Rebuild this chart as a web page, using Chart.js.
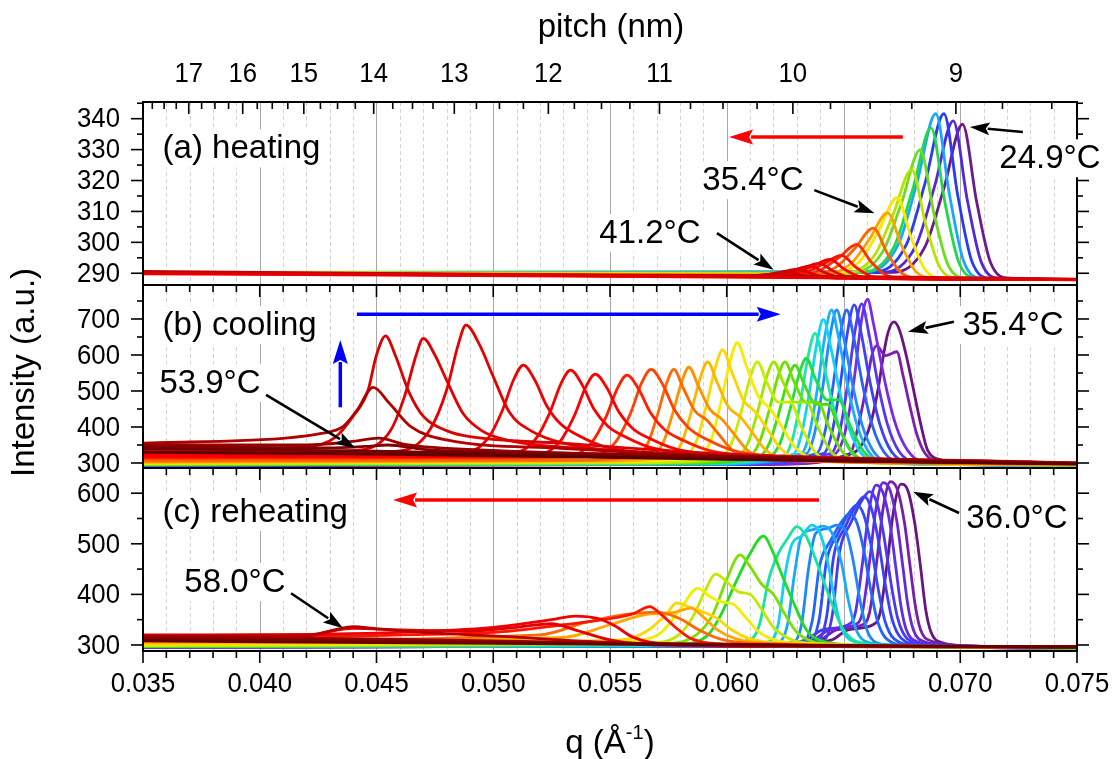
<!DOCTYPE html>
<html>
<head>
<meta charset="utf-8">
<script src="https://cdn.jsdelivr.net/npm/chart.js@4.4.1/dist/chart.umd.min.js"></script>
<style>
  html, body { margin: 0; padding: 0; background: #fff; }
  #wrap { width: 1114px; height: 759px; }
</style>
</head>
<body>
<div id="wrap"><canvas id="chart" width="1114" height="759"></canvas></div>
<script>
// tick values
const qTicks = [0.035, 0.040, 0.045, 0.050, 0.055, 0.060, 0.065, 0.070, 0.075];
const pitchTicks = [17, 16, 15, 14, 13, 12, 11, 10, 9];
const heatTicks = [290, 300, 310, 320, 330, 340];
const heatMinor = [295, 305, 315, 325, 335, 345];
const coolTicks = [300, 400, 500, 600, 700];
const coolMinor = [350, 450, 550, 650, 750];
const reheatTicks = [300, 400, 500, 600];
const reheatMinor = [350, 450, 550];

// (a) heating: scans from 24.9°C (purple) upwards, each curve as [q, intensity] points
const heatingCurves = [
  [[0.035,290.3],[0.0671,290.3],[0.0685,298.7],[0.0693,317.5],[0.0701,338.2],[0.0707,313.2],[0.0713,293.4],[0.0721,288.4],[0.075,288.0]],
  [[0.035,290.3],[0.0667,290.3],[0.0681,298.9],[0.0689,318.1],[0.0697,339.3],[0.0703,313.8],[0.0709,293.6],[0.0717,288.4],[0.075,288.0]],
  [[0.035,290.3],[0.0663,290.4],[0.0677,299.4],[0.0685,319.4],[0.0693,341.6],[0.0699,314.9],[0.0705,293.8],[0.0713,288.4],[0.075,288.0]],
  [[0.035,290.3],[0.06595,290.4],[0.06735,299.4],[0.06815,319.4],[0.06895,341.6],[0.06955,314.9],[0.07015,293.8],[0.07095,288.4],[0.075,288.0]],
  [[0.035,290.3],[0.06575,290.2],[0.06715,298.4],[0.06795,316.8],[0.06875,337.0],[0.06935,312.6],[0.06995,293.3],[0.07075,288.4],[0.075,288.0]],
  [[0.035,290.3],[0.06528,290.0],[0.06668,297.0],[0.06748,312.6],[0.06828,329.9],[0.06888,309.1],[0.06948,292.6],[0.07028,288.4],[0.075,288.0]],
  [[0.035,290.3],[0.06492,289.8],[0.06632,295.7],[0.06712,308.9],[0.06792,323.5],[0.06852,305.9],[0.06912,292.0],[0.06992,288.4],[0.075,288.0]],
  [[0.035,290.3],[0.0643,289.6],[0.0657,293.9],[0.0665,303.7],[0.0673,314.5],[0.0679,301.4],[0.0685,291.1],[0.0693,288.4],[0.075,288.0]],
  [[0.035,290.3],[0.06389,289.4],[0.06529,292.9],[0.06609,300.8],[0.06689,309.5],[0.06749,298.9],[0.06809,290.6],[0.06889,288.4],[0.075,288.0]],
  [[0.035,290.3],[0.06328,289.3],[0.06468,292.0],[0.06548,298.0],[0.06628,304.6],[0.06688,296.4],[0.06748,290.1],[0.06828,288.4],[0.075,288.0]],
  [[0.035,290.3],[0.06257,289.1],[0.06397,290.9],[0.06477,294.9],[0.06557,299.3],[0.06617,293.8],[0.06677,289.6],[0.06757,288.4],[0.075,288.0]],
  [[0.035,290.3],[0.06192,289.0],[0.06332,290.2],[0.06412,292.9],[0.06492,295.8],[0.06552,292.0],[0.06612,289.2],[0.06692,288.4],[0.075,288.0]],
  [[0.035,290.3],[0.06142,289.0],[0.06282,290.0],[0.06362,292.1],[0.06442,294.5],[0.06502,291.4],[0.06562,289.1],[0.06642,288.4],[0.075,288.0]],
  [[0.035,290.3],[0.06096,288.9],[0.06236,289.7],[0.06316,291.4],[0.06396,293.2],[0.06456,290.7],[0.06516,288.9],[0.06596,288.4],[0.075,288.0]],
  [[0.035,290.3],[0.06057,288.9],[0.06197,289.5],[0.06277,290.8],[0.06357,292.3],[0.06417,290.3],[0.06477,288.8],[0.06557,288.4],[0.075,288.0]],
  [[0.035,290.3],[0.06006,288.9],[0.06146,289.3],[0.06226,290.2],[0.06306,291.3],[0.06366,289.8],[0.06426,288.7],[0.06506,288.4],[0.075,288.0]],
  [[0.035,290.3],[0.0600,289.0],[0.0618,289.6],[0.06257,290.6],[0.0632,289.3],[0.0645,288.5],[0.075,288.0]],
  [[0.035,290.6],[0.050,289.6],[0.062,289.2],[0.075,288.1]],
  [[0.035,289.8],[0.055,289.0],[0.075,287.9]],
  [[0.035,290.0],[0.045,289.6],[0.060,288.9],[0.075,288.0]]
];
const heatingColors = ['#6c1a8c','#5328d8','#2a3cf2','#1aa6ff','#22d84a','#6cdc1e','#b8e200','#f6ea00','#ffa200','#ff6400',
  '#ff3000','#ff1000','#f60000','#ee0000','#e40000','#da0000','#d00000','#c40000','#ff0000','#e00000'];

// (b) cooling: from 35.4°C (purple) up to the highest temperatures (dark red)
const coolingCurves = [
  [[0.035,293],[0.0620,296],[0.0654,327],[0.0659,364],[0.0662,419],[0.0665,512],[0.0667,595],[0.0669,661],[0.06716,692],[0.0674,669],[0.0677,595],[0.0680,503],[0.0683,410],[0.0686,336],[0.0692,308],[0.0697,300],[0.075,294]],
  [[0.035,293],[0.0620,297],[0.0653,327],[0.06556,383],[0.06578,447],[0.0660,521],[0.0662,595],[0.06642,626],[0.0668,598],[0.06728,609],[0.06756,540],[0.06785,456],[0.06813,382],[0.06849,327],[0.0692,302],[0.075,294]],
  [[0.035,294],[0.0620,297],[0.0645,320],[0.06478,335],[0.06506,383],[0.06528,456],[0.06549,549],[0.06571,669],[0.06585,725],[0.06603,755],[0.06628,688],[0.06656,595],[0.06685,503],[0.06713,429],[0.06749,364],[0.0680,316],[0.0688,299],[0.075,294]],
  [[0.035,294],[0.0600,297],[0.06448,327],[0.06483,385],[0.06518,519],[0.06548,662],[0.06578,742],[0.06608,662],[0.06648,519],[0.06688,408],[0.06738,332],[0.06818,300],[0.075,294]],
  [[0.035,294],[0.0598,297],[0.06416,327],[0.06451,385],[0.06486,517],[0.06516,659],[0.06546,739],[0.06576,659],[0.06616,517],[0.06656,407],[0.06706,331],[0.06786,300],[0.075,294]],
  [[0.035,295],[0.0595,297],[0.06384,326],[0.06419,382],[0.06454,510],[0.06484,648],[0.06514,725],[0.06544,648],[0.06584,510],[0.06624,403],[0.06674,330],[0.06754,300],[0.075,294]],
  [[0.035,295],[0.0592,297],[0.06341,326],[0.06376,382],[0.06411,510],[0.06441,648],[0.06471,725],[0.06501,648],[0.06541,510],[0.06581,403],[0.06631,330],[0.06711,300],[0.075,294]],
  [[0.035,295],[0.0590,297],[0.06319,326],[0.06354,382],[0.06389,510],[0.06419,648],[0.06449,725],[0.06479,648],[0.06519,510],[0.06559,403],[0.06609,330],[0.06689,300],[0.075,294]],
  [[0.035,295],[0.0585,298],[0.06284,324],[0.06319,377],[0.06354,498],[0.06384,626],[0.06414,699],[0.06444,626],[0.06484,498],[0.06524,397],[0.06574,328],[0.06654,300],[0.075,294]],
  [[0.035,296],[0.0580,298],[0.06248,322],[0.06283,370],[0.06318,479],[0.06348,595],[0.06378,660],[0.06408,595],[0.06448,479],[0.06488,388],[0.06538,326],[0.06618,301],[0.075,294]],
  [[0.035,296],[0.0575,299],[0.0618,317],[0.0623,358],[0.0627,446],[0.0631,547],[0.0634,591],[0.0638,533],[0.0643,475],[0.0648,475],[0.0653,402],[0.0659,329],[0.0669,303],[0.075,295]],
  [[0.035,296],[0.0570,299],[0.06132,316],[0.06182,354],[0.06222,436],[0.06262,531],[0.06292,572],[0.06332,518],[0.06382,463],[0.06432,463],[0.06482,395],[0.06542,327],[0.06642,303],[0.075,295]],
  [[0.035,297],[0.0565,300],[0.06089,317],[0.06139,356],[0.06179,440],[0.06219,539],[0.06249,581],[0.06289,525],[0.06339,469],[0.06389,469],[0.06439,398],[0.06499,328],[0.06599,303],[0.075,295]],
  [[0.035,297],[0.0560,300],[0.06041,317],[0.06091,356],[0.06131,440],[0.06171,539],[0.06201,581],[0.06241,525],[0.06291,469],[0.06341,469],[0.06391,398],[0.06451,328],[0.06551,303],[0.075,295]],
  [[0.035,298],[0.0555,301],[0.05971,317],[0.06021,356],[0.06061,440],[0.06101,539],[0.06131,581],[0.06171,525],[0.06221,469],[0.06271,469],[0.06321,398],[0.06381,328],[0.06481,303],[0.075,295]],
  [[0.035,300],[0.0550,304],[0.05885,322],[0.05935,368],[0.05975,468],[0.06015,584],[0.06045,634],[0.06085,568],[0.06135,485],[0.06185,451],[0.06235,402],[0.06295,342],[0.06395,309],[0.075,296]],
  [[0.035,301],[0.0545,304],[0.05822,321],[0.05872,364],[0.05912,458],[0.05952,567],[0.05982,614],[0.06022,552],[0.06072,474],[0.06122,442],[0.06172,396],[0.06232,339],[0.06332,308],[0.075,296]],
  [[0.035,302],[0.0540,305],[0.05758,319],[0.05808,358],[0.05848,442],[0.05888,539],[0.05918,581],[0.05958,525],[0.06008,455],[0.06058,428],[0.06108,386],[0.06168,335],[0.06268,308],[0.075,296]],
  [[0.035,304],[0.0535,307],[0.05678,321],[0.05728,357],[0.05768,436],[0.05808,527],[0.05838,566],[0.05878,514],[0.05928,449],[0.05978,422],[0.06028,383],[0.06088,336],[0.06188,310],[0.075,297]],
  [[0.035,306],[0.0530,308],[0.05613,320],[0.05663,356],[0.05703,433],[0.05743,522],[0.05773,560],[0.05813,509],[0.05863,445],[0.05913,420],[0.05963,382],[0.06023,336],[0.06123,310],[0.075,297]],
  [[0.035,312],[0.0510,314],[0.05436,320],[0.05526,360],[0.05586,435],[0.05636,523],[0.05676,560],[0.05726,518],[0.05776,448],[0.05836,398],[0.05916,365],[0.06026,335],[0.06276,315],[0.075,298]],
  [[0.035,315],[0.0500,316],[0.05333,321],[0.05423,358],[0.05483,428],[0.05533,509],[0.05573,544],[0.05623,505],[0.05673,440],[0.05733,393],[0.05813,363],[0.05923,335],[0.06173,317],[0.075,298]],
  [[0.035,318],[0.0490,318],[0.05197,324],[0.05287,361],[0.05347,431],[0.05397,512],[0.05437,547],[0.05487,508],[0.05537,443],[0.05597,396],[0.05677,366],[0.05787,338],[0.06037,320],[0.075,298]],
  [[0.035,322],[0.0480,321],[0.05091,328],[0.05181,366],[0.05241,438],[0.05291,522],[0.05331,558],[0.05381,517],[0.05431,450],[0.05491,402],[0.05571,371],[0.05681,342],[0.05931,323],[0.075,298]],
  [[0.035,325],[0.0465,323],[0.04889,330],[0.04979,370],[0.05039,446],[0.05089,534],[0.05129,572],[0.05179,529],[0.05229,459],[0.05289,408],[0.05369,375],[0.05479,345],[0.05729,325],[0.075,299]],
  [[0.035,328],[0.0440,328],[0.0462,336],[0.0473,394],[0.0480,502],[0.0485,629],[0.04883,683],[0.0494,630],[0.0500,540],[0.0507,440],[0.0516,390],[0.0530,355],[0.0560,330],[0.075,299]],
  [[0.035,330],[0.0425,332],[0.0445,338],[0.0456,390],[0.0462,485],[0.0467,600],[0.0470,646],[0.0475,600],[0.0480,530],[0.0487,438],[0.0495,390],[0.0505,365],[0.0540,340],[0.075,299]],
  [[0.035,335],[0.0420,345],[0.0432,370],[0.0440,430],[0.04463,500],[0.0450,600],[0.04539,653],[0.0458,600],[0.04639,497],[0.0470,430],[0.0480,390],[0.0490,373],[0.0529,355],[0.0600,325],[0.075,300]],
  [[0.035,355],[0.0411,369],[0.04264,382],[0.04356,401],[0.04417,447],[0.04486,510],[0.04555,466],[0.04647,401],[0.04799,364],[0.0529,341],[0.0600,320],[0.075,300]],
  [[0.035,350],[0.0420,350],[0.0440,360],[0.04509,369],[0.0462,352],[0.0500,335],[0.0600,318],[0.075,299]],
  [[0.035,345],[0.0430,342],[0.0445,346],[0.0455,350],[0.0470,338],[0.0550,325],[0.075,298]],
  [[0.035,340],[0.0450,333],[0.0550,318],[0.0650,305],[0.075,298]],
  [[0.035,330],[0.0450,325],[0.0600,310],[0.075,297]]
];
const coolingColors = ['#6a1480','#7c1fb0','#7a2ae6','#5a36f0','#3a44f6','#2a62fa','#1e8cff','#18b0ff','#10d4f4','#1ee6a6',
  '#1ee03a','#3ee014','#6ee000','#9ee600','#c6ec00','#f8ea00','#ffd400','#ffb400','#ff9000','#ff6800',
  '#ff4000','#ff1e00','#ff0000','#f80000','#f00000','#e80000','#e20000','#dc0000','#b00000','#980000',
  '#840000','#700000','#5c0000'];

// (c) reheating: from 36.0°C (purple) to 58.0°C and above (dark red)
const reheatingCurves = [
  [[0.035,296],[0.0620,298],[0.0645,310],[0.0652,330],[0.06626,340],[0.06656,362],[0.06686,458],[0.06716,570],[0.06746,618],[0.06776,605],[0.06806,538],[0.06829,458],[0.06852,370],[0.06875,325],[0.0692,305],[0.0705,298],[0.075,293]],
  [[0.035,296],[0.0615,298],[0.0640,310],[0.0647,330],[0.06581,340],[0.06611,363],[0.06641,460],[0.06671,574],[0.06701,623],[0.06731,607],[0.06761,542],[0.06784,460],[0.06807,379],[0.0683,330],[0.06875,308],[0.0700,299],[0.075,293]],
  [[0.035,296],[0.0612,298],[0.0637,310],[0.0644,330],[0.0655,340],[0.0658,362],[0.0661,459],[0.0664,572],[0.0667,621],[0.0670,605],[0.0673,540],[0.06753,459],[0.06776,378],[0.06799,330],[0.06844,307],[0.0697,299],[0.075,293]],
  [[0.035,296],[0.0610,298],[0.0634,310],[0.0641,330],[0.0652,340],[0.0655,362],[0.0658,457],[0.0661,568],[0.0664,616],[0.0667,600],[0.0670,537],[0.06723,457],[0.06746,377],[0.06769,330],[0.06814,307],[0.0694,299],[0.075,293]],
  [[0.035,296],[0.0600,298],[0.06412,307],[0.06452,359],[0.06482,481],[0.06532,542],[0.06582,588],[0.06612,603],[0.06642,582],[0.06672,518],[0.06702,426],[0.06732,353],[0.06772,313],[0.06862,300],[0.075,293]],
  [[0.035,296],[0.0598,298],[0.06388,307],[0.06428,357],[0.06458,475],[0.06508,534],[0.06558,578],[0.06588,593],[0.06618,572],[0.06648,510],[0.06678,422],[0.06708,351],[0.06748,313],[0.06838,300],[0.075,293]],
  [[0.035,297],[0.0595,298],[0.06357,306],[0.06397,354],[0.06427,465],[0.06477,521],[0.06527,563],[0.06557,577],[0.06587,557],[0.06617,499],[0.06647,415],[0.06677,348],[0.06717,312],[0.06807,300],[0.075,294]],
  [[0.035,297],[0.0592,298],[0.06327,306],[0.06367,350],[0.06397,455],[0.06447,508],[0.06497,547],[0.06527,560],[0.06557,542],[0.06587,487],[0.06617,408],[0.06647,345],[0.06687,311],[0.06777,299],[0.075,294]],
  [[0.035,297],[0.0600,298],[0.0628,305],[0.0632,340],[0.0635,450],[0.0638,520],[0.0643,530],[0.0647,537],[0.0651,525],[0.0654,470],[0.0657,390],[0.0660,330],[0.0664,305],[0.0675,299],[0.075,294]],
  [[0.035,297],[0.0598,299],[0.0622,305],[0.0626,340],[0.0629,440],[0.0632,515],[0.0637,528],[0.0641,535],[0.0645,522],[0.0649,465],[0.0652,390],[0.0655,335],[0.0659,308],[0.0670,300],[0.075,294]],
  [[0.035,297],[0.0595,299],[0.0618,306],[0.0622,340],[0.0625,440],[0.0628,500],[0.0632,515],[0.06364,537],[0.0640,520],[0.0643,470],[0.0646,395],[0.0649,335],[0.0653,310],[0.0665,300],[0.075,294]],
  [[0.035,297],[0.0590,300],[0.0610,310],[0.0614,340],[0.0618,430],[0.0622,480],[0.0626,510],[0.0630,534],[0.0634,515],[0.0638,470],[0.0642,420],[0.0646,370],[0.0650,330],[0.0656,306],[0.0670,299],[0.075,294]],
  [[0.035,297],[0.0580,302],[0.0592,320],[0.05971,356],[0.06043,428],[0.0610,481],[0.06157,515],[0.0620,481],[0.06228,448],[0.06257,415],[0.0630,369],[0.06342,329],[0.06399,309],[0.0655,300],[0.075,294]],
  [[0.035,298],[0.0575,303],[0.0587,320],[0.0594,360],[0.0600,430],[0.06057,478],[0.0610,455],[0.0615,420],[0.0620,400],[0.0625,360],[0.0630,325],[0.0638,305],[0.0650,300],[0.075,294]],
  [[0.035,299],[0.0570,305],[0.0580,322],[0.0586,360],[0.0591,410],[0.05952,440],[0.0600,425],[0.0605,405],[0.0610,400],[0.0615,370],[0.0620,335],[0.0628,310],[0.0640,302],[0.075,295]],
  [[0.035,300],[0.0560,308],[0.0572,325],[0.0580,370],[0.05876,412],[0.0593,395],[0.0598,385],[0.0603,380],[0.0608,355],[0.0614,325],[0.0622,308],[0.0635,302],[0.075,295]],
  [[0.035,301],[0.0555,310],[0.0566,328],[0.0574,360],[0.05785,383],[0.0584,375],[0.0590,365],[0.0596,352],[0.0602,330],[0.0610,312],[0.0625,303],[0.075,295]],
  [[0.035,305],[0.0530,315],[0.0550,340],[0.0565,360],[0.0578,365],[0.05846,373],[0.0590,355],[0.0596,330],[0.0604,312],[0.0620,303],[0.075,296]],
  [[0.035,308],[0.0520,320],[0.0540,345],[0.0556,360],[0.0570,365],[0.0580,352],[0.0588,330],[0.0597,312],[0.0612,303],[0.075,296]],
  [[0.035,315],[0.0500,325],[0.0530,340],[0.0550,352],[0.0560,362],[0.0567,376],[0.0572,360],[0.0578,335],[0.0585,312],[0.0600,302],[0.075,296]],
  [[0.035,318],[0.0460,325],[0.0500,335],[0.0525,350],[0.0535,357],[0.0545,352],[0.0552,338],[0.0560,315],[0.0575,302],[0.075,296]],
  [[0.035,320],[0.0420,320],[0.0440,333],[0.0460,330],[0.0490,328],[0.0510,335],[0.0525,342],[0.0535,330],[0.0550,310],[0.0570,300],[0.075,296]],
  [[0.035,318],[0.0420,318],[0.0432,330],[0.0440,336],[0.0450,332],[0.0470,325],[0.0500,318],[0.0550,305],[0.0600,298],[0.075,296]],
  [[0.035,316],[0.0450,312],[0.0550,304],[0.0650,298],[0.075,296]],
  [[0.035,312],[0.0450,308],[0.0550,302],[0.075,296]],
  [[0.035,308],[0.0500,303],[0.075,296]]
];
const reheatingColors = ['#6a1480','#7420a8','#6c28d0','#5a30e8','#4a38f2','#3a40f8','#2c50fc','#2266ff','#1e86ff','#1aa8ff',
  '#14d0f0','#18e2a0','#22dc22','#7ee000','#c2e800','#f2ee00','#ffd600','#ffa400','#ff6a00','#ff1400',
  '#f00000','#e00000','#b80000','#980000','#800000','#680000'];

// text labels and arrows, placed in data coordinates of their panel
const notes = [
  {axis: 'yH', text: '(a) heating', q: 0.03584, v: 330.4, align: 'left'},
  {axis: 'yH', text: '24.9°C', q: 0.07384, v: 327.2},
  {axis: 'yH', text: '35.4°C', q: 0.06112, v: 320.1},
  {axis: 'yH', text: '41.2°C', q: 0.05671, v: 303.0},
  {axis: 'yC', text: '(b) cooling', q: 0.03584, v: 683, align: 'left'},
  {axis: 'yC', text: '53.9°C', q: 0.03787, v: 522},
  {axis: 'yC', text: '35.4°C', q: 0.07226, v: 683},
  {axis: 'yR', text: '(c) reheating', q: 0.03584, v: 563, align: 'left'},
  {axis: 'yR', text: '58.0°C', q: 0.03894, v: 424.5},
  {axis: 'yR', text: '36.0°C', q: 0.07243, v: 551}
];
const pointers = [
  {axis: 'yH', from: [0.06754, 334.1], to: [0.0601, 334.1], color: '#ff0000'},
  {axis: 'yH', from: [0.07268, 335.7], to: [0.07041, 337.3]},
  {axis: 'yH', from: [0.06375, 316.9], to: [0.06633, 309.4]},
  {axis: 'yH', from: [0.05958, 303.0], to: [0.06201, 291.1]},
  {axis: 'yC', from: [0.04416, 713], to: [0.06231, 713], color: '#0000ff'},
  {axis: 'yC', from: [0.04345, 454.7], to: [0.04345, 641.7], color: '#0000ff'},
  {axis: 'yC', from: [0.04027, 488.9], to: [0.0441, 340.8]},
  {axis: 'yC', from: [0.06973, 692.5], to: [0.06776, 664.7]},
  {axis: 'yR', from: [0.06395, 586.6], to: [0.04571, 586.6], color: '#ff0000'},
  {axis: 'yR', from: [0.04134, 402.2], to: [0.04357, 333.0]},
  {axis: 'yR', from: [0.06995, 560.9], to: [0.06798, 603.0]}
];

const FAMILY = '"Liberation Sans", Arial, sans-serif';
const tickFont = '28px ' + FAMILY;
const noteFont = '33px ' + FAMILY;
const titleFont = '33px ' + FAMILY;

const datasets = [];
function addPanel(curves, colors, axis) {
  // hottest scans last in the list, so push them first to draw them on top
  for (let i = curves.length - 1; i >= 0; i--) {
    datasets.push({
      data: curves[i].map(p => ({x: p[0], y: p[1]})),
      borderColor: colors[i],
      yAxisID: axis
    });
  }
}
addPanel(heatingCurves, heatingColors, 'yH');
addPanel(coolingCurves, coolingColors, 'yC');
addPanel(reheatingCurves, reheatingColors, 'yR');

function hidden(extra) {
  return Object.assign({
    ticks: {display: false},
    grid: {display: false, drawTicks: false},
    border: {display: false}
  }, extra);
}

function line(ctx, x1, y1, x2, y2) {
  ctx.beginPath(); ctx.moveTo(x1, y1); ctx.lineTo(x2, y2); ctx.stroke();
}

// slightly narrowed text, like the condensed tick numbers
function narrowText(ctx, text, x, y, sx) {
  ctx.save();
  ctx.translate(x, y);
  ctx.scale(sx, 1);
  ctx.fillText(text, 0, 0);
  ctx.restore();
}

function arrow(ctx, x1, y1, x2, y2, color, lw, len, wid) {
  const a = Math.atan2(y2 - y1, x2 - x1);
  const bx = x2 - len * Math.cos(a), by = y2 - len * Math.sin(a);
  ctx.strokeStyle = color; ctx.fillStyle = color; ctx.lineWidth = lw;
  line(ctx, x1, y1, bx + 2 * Math.cos(a), by + 2 * Math.sin(a));
  ctx.beginPath();
  ctx.moveTo(x2, y2);
  ctx.lineTo(bx + wid / 2 * Math.sin(a), by - wid / 2 * Math.cos(a));
  ctx.lineTo(bx + 4 * Math.cos(a), by + 4 * Math.sin(a));
  ctx.lineTo(bx - wid / 2 * Math.sin(a), by + wid / 2 * Math.cos(a));
  ctx.closePath(); ctx.fill();
}

function notePos(chart, n) {
  return {x: chart.scales.x.getPixelForValue(n.q), y: chart.scales[n.axis].getPixelForValue(n.v)};
}

const panelFrame = {
  id: 'panelFrame',
  beforeDatasetsDraw(chart) {
    const {ctx, chartArea: a} = chart;
    const xs = chart.scales.x;
    ctx.save();
    ctx.lineWidth = 1;
    for (let k = 36; k < 75; k++) {
      const x = Math.round(xs.getPixelForValue(k / 1000)) + 0.5;
      const major = k % 5 === 0;
      ctx.strokeStyle = major ? '#a8a8a8' : '#d2d2d2';
      ctx.setLineDash(major ? [] : [4, 3]);
      line(ctx, x, a.top, x, a.bottom);
    }
    ctx.restore();
  },
  afterDatasetsDraw(chart) {
    const {ctx, chartArea: a, scales} = chart;
    const xs = scales.x;
    const panels = [
      {s: scales.yH, major: heatTicks, minor: heatMinor},
      {s: scales.yC, major: coolTicks, minor: coolMinor},
      {s: scales.yR, major: reheatTicks, minor: reheatMinor}
    ];
    ctx.save();
    ctx.strokeStyle = '#000'; ctx.fillStyle = '#000';

    // panel frames
    ctx.lineWidth = 2;
    ctx.strokeRect(a.left, a.top, a.right - a.left, a.bottom - a.top);
    panels.slice(1).forEach(p => line(ctx, a.left, p.s.top, a.right, p.s.top));

    // q ticks: outside at the bottom, inside below each panel boundary
    ctx.lineWidth = 1.6;
    const rows = [a.bottom, scales.yC.top, scales.yR.top];
    for (let k = 35; k <= 75; k++) {
      const x = xs.getPixelForValue(k / 1000);
      const len = k % 5 === 0 ? 12 : 7;
      rows.forEach(y => line(ctx, x, y, x, y + len));
    }
    // pitch ticks hanging from the top edge
    for (let p = 8.5; p <= 18; p += 0.25) {
      const q = 2 * Math.PI / (10 * p);
      if (q < 0.035 || q > 0.075) continue;
      const x = xs.getPixelForValue(q);
      line(ctx, x, a.top, x, a.top + (Number.isInteger(p) ? 12 : 7));
    }
    // intensity ticks on both sides
    panels.forEach(p => {
      p.major.forEach(v => {
        const y = p.s.getPixelForValue(v);
        line(ctx, a.left - 12, y, a.left, y);
        line(ctx, a.right, y, a.right + 12, y);
      });
      p.minor.forEach(v => {
        const y = p.s.getPixelForValue(v);
        line(ctx, a.left - 6, y, a.left, y);
        line(ctx, a.right, y, a.right + 6, y);
      });
    });

    // tick labels
    ctx.font = tickFont;
    ctx.textAlign = 'right'; ctx.textBaseline = 'middle';
    panels.forEach(p => p.major.forEach(v => narrowText(ctx, String(v), a.left - 23, p.s.getPixelForValue(v) + 1, 0.92)));
    ctx.textAlign = 'center';
    qTicks.forEach(q => narrowText(ctx, q.toFixed(3), xs.getPixelForValue(q), a.bottom + 33, 0.92));
    pitchTicks.forEach(p => narrowText(ctx, String(p), xs.getPixelForValue(2 * Math.PI / (10 * p)), a.top - 28, 0.92));

    // axis titles
    ctx.font = titleFont;
    ctx.fillText('pitch (nm)', (a.left + a.right) / 2 + 1, 28);
    ctx.save();
    ctx.translate(25, (a.top + a.bottom) / 2 - 4);
    ctx.rotate(-Math.PI / 2);
    ctx.fillText('Intensity (a.u.)', 0, 0);
    ctx.restore();
    const supFont = '20px ' + FAMILY;
    ctx.font = titleFont;
    const w1 = ctx.measureText('q (Å').width, w3 = ctx.measureText(')').width;
    ctx.font = supFont;
    const w2 = ctx.measureText('-1').width;
    const x0 = (a.left + a.right) / 2 - (w1 + w2 + w3) / 2;
    const ty = 744;
    ctx.textAlign = 'left';
    ctx.font = titleFont; ctx.fillText('q (Å', x0, ty);
    ctx.font = supFont; ctx.fillText('-1', x0 + w1, ty - 11);
    ctx.font = titleFont; ctx.fillText(')', x0 + w1 + w2, ty);

    // labels on white boxes, then arrows
    ctx.font = noteFont;
    notes.forEach(n => {
      const p = notePos(chart, n);
      const w = ctx.measureText(n.text).width;
      const left = n.align === 'left' ? p.x : p.x - w / 2;
      ctx.fillStyle = '#fff';
      ctx.fillRect(left - 4, p.y - 19, w + 8, 38);
      ctx.fillStyle = '#000';
      ctx.textAlign = 'left';
      ctx.fillText(n.text, left, p.y + 1);
    });
    pointers.forEach(r => {
      const s = scales[r.axis];
      const x1 = xs.getPixelForValue(r.from[0]), y1 = s.getPixelForValue(r.from[1]);
      const x2 = xs.getPixelForValue(r.to[0]), y2 = s.getPixelForValue(r.to[1]);
      if (r.color) arrow(ctx, x1, y1, x2, y2, r.color, 3.5, 24, 15);
      else arrow(ctx, x1, y1, x2, y2, '#000', 2.6, 20, 13);
    });
    ctx.restore();
  }
};

new Chart(document.getElementById('chart'), {
  type: 'line',
  data: {datasets: datasets},
  options: {
    responsive: false,
    animation: false,
    devicePixelRatio: 1,
    layout: {padding: {left: 143, right: 37, top: 102, bottom: 108}},
    plugins: {legend: {display: false}, tooltip: {enabled: false}},
    elements: {
      point: {radius: 0},
      line: {borderWidth: 2.8, cubicInterpolationMode: 'monotone', fill: false}
    },
    // stacked panels are laid out bottom-up in the order listed
    scales: {
      x: hidden({type: 'linear', position: 'bottom', min: 0.035, max: 0.075, afterFit: s => { s.height = 0; }}),
      yR: hidden({type: 'linear', position: 'left', stack: 'panels', stackWeight: 1, min: 288.1, max: 649.8, afterFit: s => { s.width = 0; }}),
      yC: hidden({type: 'linear', position: 'left', stack: 'panels', stackWeight: 1, min: 286.1, max: 794.4, afterFit: s => { s.width = 0; }}),
      yH: hidden({type: 'linear', position: 'left', stack: 'panels', stackWeight: 1, min: 286.2, max: 345.4, afterFit: s => { s.width = 0; }})
    }
  },
  plugins: [panelFrame]
});
</script>
</body>
</html>
